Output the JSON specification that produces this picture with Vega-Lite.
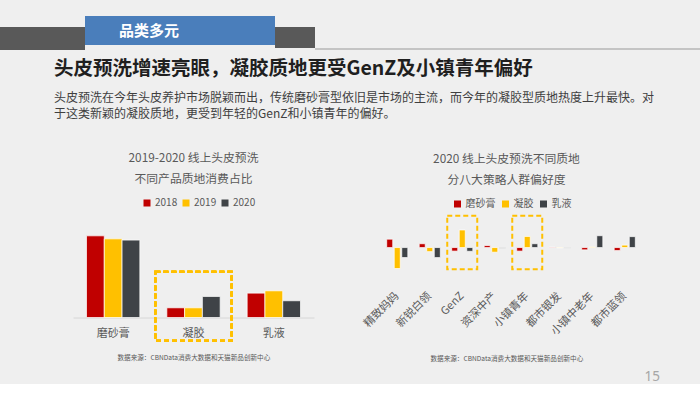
{
  "$schema": "https://vega.github.io/schema/vega-lite/v6.json",
  "background": "#efefef",
  "padding": {"left": 0, "top": 16, "right": 0, "bottom": 0},
  "config": {"view": {"stroke": null}, "font": "Noto Sans CJK SC"},
  "title": {"text": "15", "orient": "bottom", "anchor": "end", "fontSize": 13.5, "fontWeight": "normal", "color": "#a6a6a6", "font": "Noto Sans", "dx": -40, "offset": 8},
  "spacing": 6,
  "vconcat": [
    {
      "spacing": 0,
      "hconcat": [
        {"spacing": 0, "vconcat": [
          {"width": 85, "height": 11, "data": {"values": [{}]}, "mark": {"type": "point", "opacity": 0}},
          {"width": 85, "height": 23, "data": {"values": [{}]}, "mark": {"type": "point", "opacity": 0}, "view": {"fill": "#595959"}}
        ]},
        {"width": 190, "height": 29, "data": {"values": [{"label": "品类多元"}]},
         "mark": {"type": "text", "color": "#ffffff", "fontSize": 15, "fontWeight": "bold", "dx": -31},
         "encoding": {"text": {"field": "label"}},
         "view": {"fill": "#4a7ebb"}},
        {"spacing": 0, "vconcat": [
          {"width": 40, "height": 11, "data": {"values": [{}]}, "mark": {"type": "point", "opacity": 0}},
          {"width": 40, "height": 21, "data": {"values": [{}]}, "mark": {"type": "point", "opacity": 0}, "view": {"fill": "#595959"}}
        ]},
        {"spacing": 0, "vconcat": [
          {"width": 385, "height": 30, "data": {"values": [{}]}, "mark": {"type": "point", "opacity": 0}},
          {"width": 385, "height": 2, "data": {"values": [{}]}, "mark": {"type": "point", "opacity": 0}, "view": {"fill": "#c4c4c4"}}
        ]}
      ]
    },
    {
      "bounds": "flush",
      "spacing": 67,
      "resolve": {"scale": {"color": "independent", "x": "independent", "y": "independent", "xOffset": "independent"}, "legend": {"color": "independent"}},
      "title": {
        "text": "头皮预洗增速亮眼，凝胶质地更受GenZ及小镇青年偏好",
        "subtitle": ["头皮预洗在今年头皮养护市场脱颖而出，传统磨砂膏型依旧是市场的主流，而今年的凝胶型质地热度上升最快。对", "于这类新颖的凝胶质地，更受到年轻的GenZ和小镇青年的偏好。"],
        "anchor": "start", "frame": "group", "dx": 54,
        "fontSize": 19.5, "fontWeight": "bold", "color": "#1f1f1f",
        "subtitleFontSize": 12, "subtitleColor": "#404040", "subtitleLineHeight": 16, "subtitlePadding": 14,
        "offset": 32
      },
      "hconcat": [
        {"width": 6, "height": 100, "data": {"values": [{}]}, "mark": {"type": "point", "opacity": 0}},
        {
          "width": 241, "height": 115.5,
          "title": {"text": ["2019-2020 线上头皮预洗", "不同产品质地消费占比"], "fontSize": 11.8, "fontWeight": "normal", "color": "#595959", "lineHeight": 21, "anchor": "middle", "frame": "group", "offset": 12},
          "data": {"values": [
            {"cat": "磨砂膏", "year": "2018", "value": 70.7},
            {"cat": "磨砂膏", "year": "2019", "value": 68.1},
            {"cat": "磨砂膏", "year": "2020", "value": 67.0},
            {"cat": "凝胶", "year": "2018", "value": 8.4},
            {"cat": "凝胶", "year": "2019", "value": 8.4},
            {"cat": "凝胶", "year": "2020", "value": 18.2},
            {"cat": "乳液", "year": "2018", "value": 21.1},
            {"cat": "乳液", "year": "2019", "value": 23.1},
            {"cat": "乳液", "year": "2020", "value": 14.5}
          ]},
          "layer": [
            {
              "mark": {"type": "bar", "stroke": "#ffffff", "strokeWidth": 0.7},
              "encoding": {
                "x": {"field": "cat", "type": "nominal", "sort": ["磨砂膏", "凝胶", "乳液"],
                  "scale": {"paddingInner": 0.336, "paddingOuter": 0.168},
                  "axis": {"labelAngle": 0, "ticks": false, "domainColor": "#d6d6d6", "labelFontSize": 11, "labelColor": "#595959", "labelPadding": 10,
                    "title": "数据来源：CBNData消费大数据和天猫新品创新中心", "titleFontSize": 6.6, "titleFontWeight": "normal", "titleColor": "#595959",
                    "titleX": 44, "titleY": 40, "titleAlign": "left", "titleBaseline": "middle"}},
                "xOffset": {"field": "year", "type": "nominal", "scale": {"paddingInner": 0, "paddingOuter": 0}},
                "y": {"field": "value", "type": "quantitative", "scale": {"domain": [0, 100]}, "axis": null},
                "color": {"field": "year", "type": "nominal", "scale": {"range": ["#c00000", "#ffc000", "#3f4347"]},
                  "legend": {"orient": "none", "legendX": 69, "legendY": -4, "direction": "horizontal", "columns": 3, "title": null,
                    "symbolType": "square", "symbolSize": 49, "symbolStrokeWidth": 0, "labelFontSize": 10, "labelColor": "#595959",
                    "labelOffset": 3, "columnPadding": 3, "padding": 0}}
              }
            },
            {
              "mark": {"type": "rect", "fillOpacity": 0, "stroke": "#ffc000", "strokeWidth": 2, "strokeDash": [5, 3], "width": {"band": 1.43}},
              "encoding": {"x": {"datum": "凝胶"}, "y": {"datum": 39.6}, "y2": {"datum": -20.2}}
            }
          ]
        },
        {
          "width": 260, "height": 82,
          "title": {"text": ["2020 线上头皮预洗不同质地", "分八大策略人群偏好度"], "fontSize": 11.8, "fontWeight": "normal", "color": "#595959", "lineHeight": 21, "anchor": "middle", "frame": "group", "offset": 12, "dx": -4.5},
          "layer": [
            {
              "data": {"values": [
                {"cat": "精致妈妈", "type": "磨砂膏", "value": 9.2},
                {"cat": "精致妈妈", "type": "凝胶", "value": -23},
                {"cat": "精致妈妈", "type": "乳液", "value": -11},
                {"cat": "新锐白领", "type": "磨砂膏", "value": 4.2},
                {"cat": "新锐白领", "type": "凝胶", "value": -4.5},
                {"cat": "新锐白领", "type": "乳液", "value": -11},
                {"cat": "GenZ", "type": "磨砂膏", "value": -3.9},
                {"cat": "GenZ", "type": "凝胶", "value": 19.3},
                {"cat": "GenZ", "type": "乳液", "value": -4.1},
                {"cat": "资深中产", "type": "磨砂膏", "value": 2.2},
                {"cat": "资深中产", "type": "凝胶", "value": -5.1},
                {"cat": "资深中产", "type": "乳液", "value": -0.7},
                {"cat": "小镇青年", "type": "磨砂膏", "value": -3.9},
                {"cat": "小镇青年", "type": "凝胶", "value": 12.2},
                {"cat": "小镇青年", "type": "乳液", "value": 4.2},
                {"cat": "都市银发", "type": "磨砂膏", "value": 0.5},
                {"cat": "都市银发", "type": "凝胶", "value": -0.4},
                {"cat": "都市银发", "type": "乳液", "value": -0.6},
                {"cat": "小镇中老年", "type": "磨砂膏", "value": -2.5},
                {"cat": "小镇中老年", "type": "凝胶", "value": 0.7},
                {"cat": "小镇中老年", "type": "乳液", "value": 13},
                {"cat": "都市蓝领", "type": "磨砂膏", "value": -3.3},
                {"cat": "都市蓝领", "type": "凝胶", "value": 2.7},
                {"cat": "都市蓝领", "type": "乳液", "value": 12}
              ]},
              "mark": {"type": "bar", "stroke": "#ffffff", "strokeWidth": 0.7},
              "encoding": {
                "x": {"field": "cat", "type": "nominal", "sort": ["精致妈妈", "新锐白领", "GenZ", "资深中产", "小镇青年", "都市银发", "小镇中老年", "都市蓝领"],
                  "scale": {"paddingInner": 0.35, "paddingOuter": 0.175},
                  "axis": {"labelAngle": -45, "labelAlign": "right", "labelBaseline": "middle", "ticks": false, "domain": false, "labelFontSize": 11, "labelColor": "#595959", "labelPadding": 10,
                    "title": "数据来源：CBNData消费大数据和天猫新品创新中心", "titleFontSize": 6.6, "titleFontWeight": "normal", "titleColor": "#595959",
                    "titleX": 49, "titleY": 74, "titleAlign": "left", "titleBaseline": "middle"}},
                "xOffset": {"field": "type", "type": "nominal", "sort": ["磨砂膏", "凝胶", "乳液"], "scale": {"paddingInner": 0.2, "paddingOuter": 0}},
                "y": {"field": "value", "type": "quantitative", "scale": {"domain": [-35, 47]}, "axis": null},
                "color": {"field": "type", "type": "nominal", "sort": ["磨砂膏", "凝胶", "乳液"], "scale": {"range": ["#c00000", "#ffc000", "#3f4347"]},
                  "legend": {"orient": "none", "legendX": 71.5, "legendY": -3, "direction": "horizontal", "columns": 3, "title": null,
                    "symbolType": "square", "symbolSize": 49, "symbolStrokeWidth": 0, "labelFontSize": 10, "labelColor": "#595959",
                    "labelOffset": 3, "columnPadding": 5, "padding": 0}}
              }
            },
            {
              "mark": {"type": "rule", "color": "#d6d6d6", "strokeWidth": 1},
              "encoding": {"y": {"datum": 0}}
            },
            {
              "data": {"values": [{"cat": "GenZ"}, {"cat": "小镇青年"}]},
              "mark": {"type": "rect", "fillOpacity": 0, "stroke": "#ffc000", "strokeWidth": 2, "strokeDash": [5, 3], "width": {"band": 1.42}},
              "encoding": {"x": {"field": "cat", "type": "nominal", "sort": ["精致妈妈", "新锐白领", "GenZ", "资深中产", "小镇青年", "都市银发", "小镇中老年", "都市蓝领"]}, "y": {"datum": 35}, "y2": {"datum": -23.7}}
            }
          ]
        }
      ]
    }
  ]
}
